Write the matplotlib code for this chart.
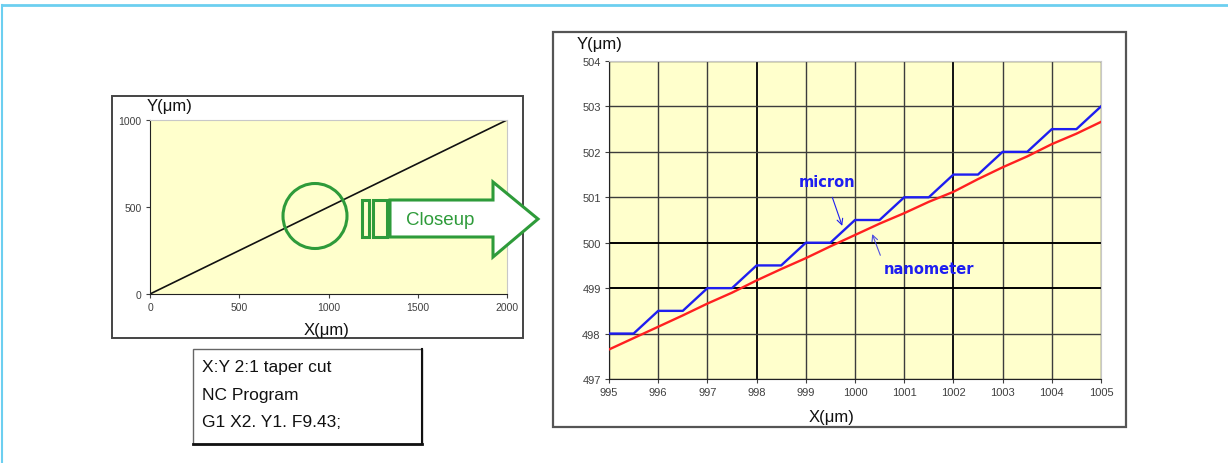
import matplotlib
matplotlib.use("Agg")
import matplotlib.pyplot as plt
from matplotlib.patches import Ellipse, Polygon, Rectangle
from matplotlib.lines import Line2D

# ---------------- data ----------------
full_x = [0, 250, 500, 750, 1000, 1250, 1500, 1750, 2000]
full_y = [0, 125, 250, 375, 500, 625, 750, 875, 1000]
full_xticks = [0, 500, 1000, 1500, 2000]
full_yticks = [0, 500, 1000]

micron_x = [995, 995.5, 996, 996.5, 997, 997.5, 998, 998.5, 999, 999.5, 1000,
            1000.5, 1001, 1001.5, 1002, 1002.5, 1003, 1003.5, 1004, 1004.5, 1005]
micron_y = [498, 498, 498.5, 498.5, 499, 499, 499.5, 499.5, 500, 500, 500.5,
            500.5, 501, 501, 501.5, 501.5, 502, 502, 502.5, 502.5, 503]
nano_x = micron_x
nano_y = [497.65, 497.9, 498.15, 498.4, 498.66, 498.9, 499.17, 499.42, 499.66, 499.92, 500.17,
          500.42, 500.65, 500.9, 501.12, 501.4, 501.66, 501.9, 502.17, 502.4, 502.66]
zoom_xticks = [995, 996, 997, 998, 999, 1000, 1001, 1002, 1003, 1004, 1005]
zoom_yticks = [497, 498, 499, 500, 501, 502, 503, 504]

program_lines = ["X:Y 2:1 taper cut", "NC Program", "G1 X2. Y1. F9.43;"]

# ---------------- layout ----------------
W, H = 1228, 464
plt.rcParams['font.family'] = ['Liberation Sans', 'DejaVu Sans']
fig = plt.figure(figsize=(W / 100, H / 100), dpi=100)
fig.patch.set_facecolor('white')


def rect(l, t, r, b):
    return [l / W, 1 - b / H, (r - l) / W, (b - t) / H]


YELLOW = '#FFFFCC'
GREEN = '#2E9B3A'
BLUE = '#1E1EF0'
RED = '#FF2020'
TICKC = '#404040'

# ----- left overview chart -----
axL = fig.add_axes(rect(150, 121, 507, 295))
axL.set_facecolor(YELLOW)
axL.plot(full_x, full_y, color='#111111', lw=1.2)
axL.set_xlim(0, 2000)
axL.set_ylim(0, 1000)
axL.set_xticks(full_xticks)
axL.set_yticks(full_yticks)
axL.tick_params(direction='out', length=3, labelsize=7.5, colors=TICKC, pad=3)
for s in ['left', 'bottom']:
    axL.spines[s].set_color('#222222')
for s in ['top', 'right']:
    axL.spines[s].set_color('#C8C8C8')

# ----- right zoomed chart -----
axR = fig.add_axes(rect(609, 62, 1101, 380))
axR.set_facecolor(YELLOW)
axR.set_xlim(995, 1005)
axR.set_ylim(497, 504)
axR.set_xticks(zoom_xticks)
axR.set_yticks(zoom_yticks)
axR.grid(True, color='#3C3C3C', lw=1.0)
for i, gl in enumerate(axR.get_xgridlines()):
    if zoom_xticks[i] in (998, 1002):
        gl.set_color('#111111'); gl.set_linewidth(1.4)
for i, gl in enumerate(axR.get_ygridlines()):
    if zoom_yticks[i] in (499, 500):
        gl.set_color('#000000'); gl.set_linewidth(1.4)
axR.set_axisbelow(True)
axR.plot(nano_x, nano_y, color=RED, lw=1.7, zorder=3)
axR.plot(micron_x, micron_y, color=BLUE, lw=1.7, zorder=4)
axR.tick_params(direction='out', length=3, labelsize=8, colors=TICKC, pad=3)
for s in ['left', 'bottom']:
    axR.spines[s].set_color('#222222')
for s in ['top', 'right']:
    axR.spines[s].set_color('#C8C8C8')

axR.annotate('micron', xy=(999.74, 500.37), xytext=(999.43, 501.34),
             color=BLUE, fontsize=10.5, fontweight='bold', family='DejaVu Sans',
             ha='center', va='center',
             arrowprops=dict(arrowstyle='->', color=BLUE, lw=0.8, shrinkA=4, shrinkB=0))
axR.annotate('nanometer', xy=(1000.35, 500.19), xytext=(1001.5, 499.44),
             color=BLUE, fontsize=10.5, fontweight='bold', family='DejaVu Sans',
             ha='center', va='center',
             arrowprops=dict(arrowstyle='->', color='#5050E0', lw=0.8, shrinkA=2, shrinkB=0,
                             relpos=(0.0, 0.8)))

# ----- overlay for frames, labels and decorations -----
ov = fig.add_axes([0, 0, 1, 1], zorder=10)
ov.set_xlim(0, W)
ov.set_ylim(H, 0)
ov.axis('off')
ov.patch.set_alpha(0)

# page frame (light blue)
ov.add_line(Line2D([2, W], [6, 6], color='#6CCFF0', lw=2))
ov.add_line(Line2D([2, 2], [6, H], color='#6CCFF0', lw=1.5))

# chart frames
ov.add_patch(Rectangle((112, 97), 411, 242, fill=False, ec='#444444', lw=1.4))
ov.add_patch(Rectangle((553, 33), 573, 395, fill=False, ec='#555555', lw=1.6))

# axis titles
ov.text(170, 106, 'Y(μm)', fontsize=12, ha='center', va='center', color='#111111')
ov.text(327, 331, 'X(μm)', fontsize=12, ha='center', va='center', color='#111111')
ov.text(600, 44, 'Y(μm)', fontsize=12, ha='center', va='center', color='#111111')
ov.text(832, 418, 'X(μm)', fontsize=12, ha='center', va='center', color='#111111')

# green circle and closeup arrow
ov.add_patch(Ellipse((315, 217), 64, 65, fill=False, ec=GREEN, lw=2.2))
ov.add_patch(Rectangle((362, 201), 7, 37, fill=False, ec=GREEN, lw=2.2))
ov.add_patch(Rectangle((373, 201), 14, 37, fill=False, ec=GREEN, lw=2.2))
ov.add_patch(Polygon([(390, 201), (493, 201), (493, 183), (538, 220),
                      (493, 258), (493, 238), (390, 238)],
                     closed=True, fc='white', ec=GREEN, lw=2.2))
ov.text(440, 221, 'Closeup', color=GREEN, fontsize=13.5, ha='center', va='center')

# program text box
ov.add_patch(Rectangle((193, 350), 229, 95, fc='white', ec='#666666', lw=1.0))
ov.add_line(Line2D([193, 422], [445, 445], color='#111111', lw=2))
ov.add_line(Line2D([422, 422], [350, 445], color='#111111', lw=1.5))
for i, line in enumerate(program_lines):
    ov.text(202, 368 + i * 27.5, line, fontsize=12.5, ha='left', va='center', color='#111111')

fig.savefig('out.png', dpi=100)
